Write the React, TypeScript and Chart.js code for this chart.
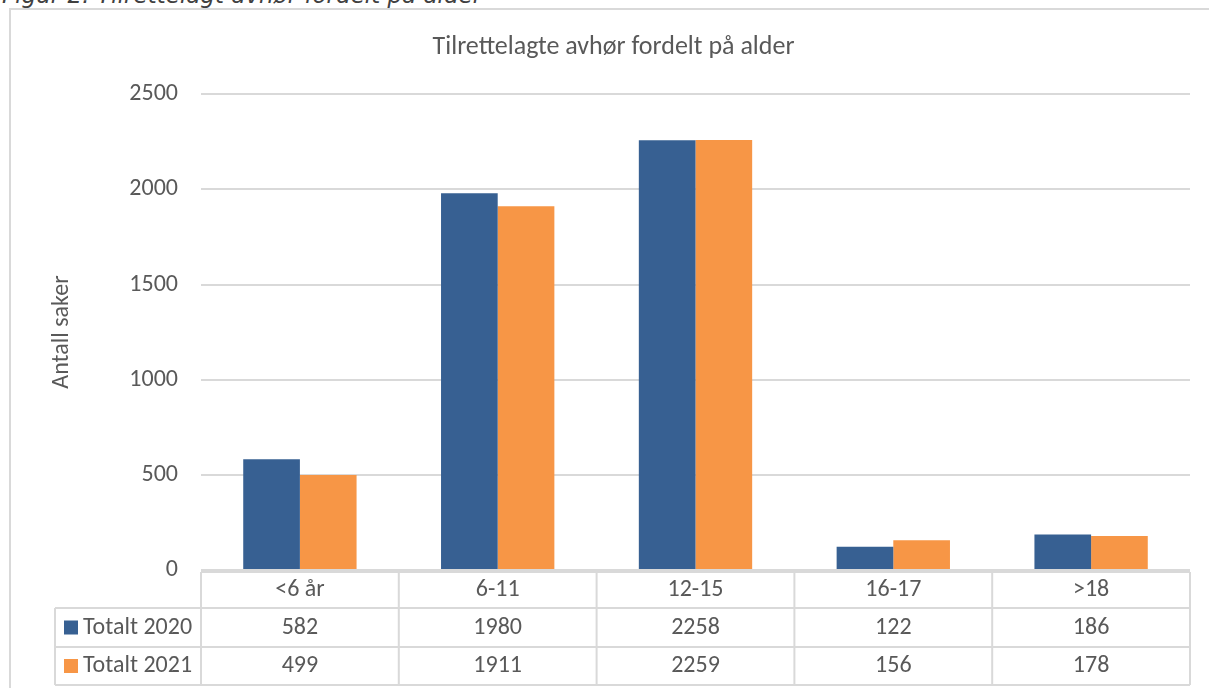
import React, { useEffect, useRef } from "react";
import { Chart, registerables } from "chart.js";

Chart.register(...registerables);

const chartTitle = "Tilrettelagte avhør fordelt på alder";
const figureCaption = "Figur 2: Tilrettelagt avhør fordelt på alder";
const yAxisTitle = "Antall saker";
const categories = ["<6 år", "6-11", "12-15", "16-17", ">18"];
const seriesNames = ["Totalt 2020", "Totalt 2021"];
const totalt2020 = [582, 1980, 2258, 122, 186];
const totalt2021 = [499, 1911, 2259, 156, 178];
const yMin = 0;
const yMax = 2500;
const yStep = 500;

const FONT = "Carlito, Lato, 'Liberation Sans', sans-serif";
const TEXT = "#595959";
const GRID = "#d9d9d9";
const BLUE = "#376092";
const ORANGE = "#F79646";
const FS = 24;

const dataTablePlugin = {
  id: "dataTable",
  afterDraw(chart: any) {
    const { ctx, chartArea, scales } = chart;
    const x = scales.x;
    const left = chartArea.left;
    const right = chartArea.right;
    const base = chartArea.bottom;
    const n = categories.length;
    const cw = (right - left) / n;
    const rows = [base + 2, base + 38, base + 77, base + 115];
    const legendLeft = 55;
    const series = [
      { name: seriesNames[0], values: totalt2020, color: BLUE },
      { name: seriesNames[1], values: totalt2021, color: ORANGE },
    ];
    ctx.save();
    ctx.strokeStyle = GRID;
    ctx.lineWidth = 2;
    ctx.beginPath();
    ctx.moveTo(left, rows[0]);
    ctx.lineTo(right, rows[0]);
    for (let r = 1; r < rows.length; r++) {
      ctx.moveTo(legendLeft, rows[r]);
      ctx.lineTo(right, rows[r]);
    }
    for (let i = 0; i <= n; i++) {
      const xx = left + i * cw;
      ctx.moveTo(xx, rows[0]);
      ctx.lineTo(xx, rows[3]);
    }
    ctx.moveTo(legendLeft, rows[1]);
    ctx.lineTo(legendLeft, rows[3]);
    ctx.stroke();

    ctx.fillStyle = TEXT;
    ctx.font = `${FS}px ${FONT}`;
    ctx.textAlign = "center";
    ctx.textBaseline = "middle";
    categories.forEach((c, i) => {
      const cx = x.getPixelForValue(i);
      ctx.fillText(c, cx, (rows[0] + rows[1]) / 2);
    });
    series.forEach((s, r) => {
      const cy = (rows[r + 1] + rows[r + 2]) / 2;
      s.values.forEach((v, i) => {
        ctx.fillStyle = TEXT;
        ctx.textAlign = "center";
        ctx.fillText(String(v), x.getPixelForValue(i), cy);
      });
      ctx.fillStyle = s.color;
      ctx.fillRect(64, cy - 7, 14, 14);
      ctx.fillStyle = TEXT;
      ctx.textAlign = "left";
      ctx.fillText(s.name, 83, cy);
    });
    ctx.restore();
  },
};

export default function App() {
  const canvasRef = useRef<HTMLCanvasElement | null>(null);

  useEffect(() => {
    const canvas = canvasRef.current;
    if (!canvas) return;
    const chart = new Chart(canvas, {
      type: "bar",
      data: {
        labels: categories,
        datasets: [
          {
            label: seriesNames[0],
            data: totalt2020,
            backgroundColor: BLUE,
            borderWidth: 0,
            categoryPercentage: 0.573,
            barPercentage: 1,
          },
          {
            label: seriesNames[1],
            data: totalt2021,
            backgroundColor: ORANGE,
            borderWidth: 0,
            categoryPercentage: 0.573,
            barPercentage: 1,
          },
        ],
      },
      options: {
        responsive: false,
        animation: false,
        devicePixelRatio: 1,
        layout: { padding: { left: 37, right: 19, top: 0, bottom: 0 } },
        plugins: {
          legend: { display: false },
          tooltip: { enabled: false },
          title: {
            display: true,
            text: chartTitle,
            color: TEXT,
            font: { family: FONT, size: 26, weight: "normal", lineHeight: 1.2 },
            padding: { top: 32, bottom: 31 },
          },
        },
        scales: {
          x: {
            grid: { display: false },
            border: { display: false },
            ticks: { display: false },
            afterFit(scale: any) {
              scale.height = 118;
            },
          },
          y: {
            min: yMin,
            max: yMax,
            ticks: {
              stepSize: yStep,
              color: TEXT,
              padding: 23,
              font: { family: FONT, size: FS },
              callback: (v: any) => String(v),
            },
            grid: { color: GRID, lineWidth: 2, drawTicks: false },
            border: { display: false },
            title: {
              display: true,
              text: yAxisTitle,
              color: TEXT,
              font: { family: FONT, size: FS, lineHeight: 1.2 },
              padding: { top: 11, bottom: 0 },
            },
            afterFit(scale: any) {
              scale.width = 164;
            },
          },
        },
      },
      plugins: [dataTablePlugin],
    });
    return () => chart.destroy();
  }, []);

  return (
    <div
      style={{
        position: "absolute",
        left: 0,
        top: 0,
        width: 1209,
        height: 688,
        overflow: "hidden",
        background: "#ffffff",
      }}
    >
      <div
        style={{
          position: "absolute",
          left: 2,
          top: -16,
          fontFamily: "'DejaVu Sans', Verdana, sans-serif",
          fontStyle: "italic",
          fontSize: 23,
          lineHeight: "23px",
          color: "#404040",
          whiteSpace: "nowrap",
        }}
      >
        {figureCaption}
      </div>
      <div
        style={{
          position: "absolute",
          left: 9,
          top: 8,
          width: 1400,
          height: 900,
          border: "2px solid #d9d9d9",
          boxSizing: "border-box",
        }}
      />
      <canvas
        ref={canvasRef}
        width={1209}
        height={688}
        style={{ position: "absolute", left: 0, top: 0, width: 1209, height: 688 }}
      />
    </div>
  );
}
